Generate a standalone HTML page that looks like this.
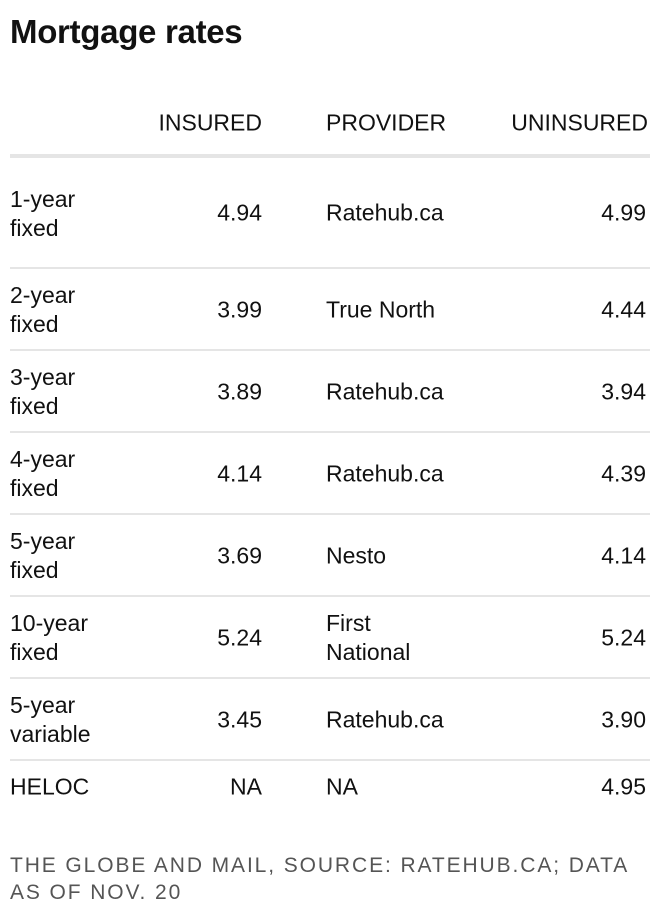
<!DOCTYPE html>
<html><head><meta charset="utf-8"><style>
body{margin:0;width:660px;height:922px;background:#fff;position:relative;font-family:"Liberation Sans",sans-serif;color:#111;overflow:hidden}
.t{position:absolute;font-size:23px;line-height:29px;white-space:nowrap;transform:translateY(-50%)}
.r{text-align:right}
.l{position:absolute;left:10px;width:640px;background:#e5e5e5;height:2px}
h1{position:absolute;left:10px;top:12px;margin:0;font-size:33px;font-weight:bold;letter-spacing:-0.3px;line-height:40px}
.f{position:absolute;left:10px;font-size:21px;color:#555;letter-spacing:1.9px;line-height:27px}
</style></head><body>
<h1>Mortgage rates</h1>
<div class="t r" style="right:398px;top:123px">INSURED</div>
<div class="t" style="left:326px;top:123px">PROVIDER</div>
<div class="t r" style="right:12px;top:123px">UNINSURED</div>
<div class="l" style="top:154px;height:4px"></div>

<div class="t" style="left:10px;top:214px">1-year<br>fixed</div>
<div class="t r" style="right:398px;top:213px">4.94</div>
<div class="t" style="left:326px;top:213px">Ratehub.ca</div>
<div class="t r" style="right:14px;top:213px">4.99</div>
<div class="l" style="top:267px"></div>

<div class="t" style="left:10px;top:310px">2-year<br>fixed</div>
<div class="t r" style="right:398px;top:310px">3.99</div>
<div class="t" style="left:326px;top:310px">True North</div>
<div class="t r" style="right:14px;top:310px">4.44</div>
<div class="l" style="top:349px"></div>

<div class="t" style="left:10px;top:392px">3-year<br>fixed</div>
<div class="t r" style="right:398px;top:392px">3.89</div>
<div class="t" style="left:326px;top:392px">Ratehub.ca</div>
<div class="t r" style="right:14px;top:392px">3.94</div>
<div class="l" style="top:431px"></div>

<div class="t" style="left:10px;top:474px">4-year<br>fixed</div>
<div class="t r" style="right:398px;top:474px">4.14</div>
<div class="t" style="left:326px;top:474px">Ratehub.ca</div>
<div class="t r" style="right:14px;top:474px">4.39</div>
<div class="l" style="top:513px"></div>

<div class="t" style="left:10px;top:556px">5-year<br>fixed</div>
<div class="t r" style="right:398px;top:556px">3.69</div>
<div class="t" style="left:326px;top:556px">Nesto</div>
<div class="t r" style="right:14px;top:556px">4.14</div>
<div class="l" style="top:595px"></div>

<div class="t" style="left:10px;top:638px">10-year<br>fixed</div>
<div class="t r" style="right:398px;top:638px">5.24</div>
<div class="t" style="left:326px;top:638px">First<br>National</div>
<div class="t r" style="right:14px;top:638px">5.24</div>
<div class="l" style="top:677px"></div>

<div class="t" style="left:10px;top:720px">5-year<br>variable</div>
<div class="t r" style="right:398px;top:720px">3.45</div>
<div class="t" style="left:326px;top:720px">Ratehub.ca</div>
<div class="t r" style="right:14px;top:720px">3.90</div>
<div class="l" style="top:759px"></div>

<div class="t" style="left:10px;top:787px">HELOC</div>
<div class="t r" style="right:398px;top:787px">NA</div>
<div class="t" style="left:326px;top:787px">NA</div>
<div class="t r" style="right:14px;top:787px">4.95</div>

<div class="f" style="top:852px">THE GLOBE AND MAIL, SOURCE: RATEHUB.CA; DATA<br>AS OF NOV. 20</div>
</body></html>
